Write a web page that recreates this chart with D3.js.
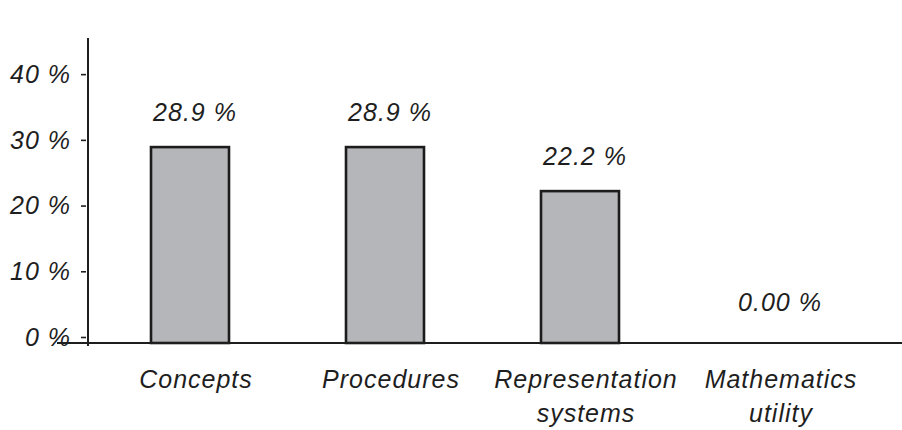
<!DOCTYPE html>
<html>
<head>
<meta charset="utf-8">
<script src="https://cdn.jsdelivr.net/npm/d3@7"></script>
<style>
  html, body { margin: 0; padding: 0; background: #fff; }
  svg text { font-family: "Liberation Sans", Arial, sans-serif; font-style: italic; font-size: 25px; letter-spacing: 1px; fill: #1e1e1e; }
</style>
</head>
<body>
<svg id="chart" width="902" height="430"></svg>
<script>
// Share of items per category
const categories = [["Concepts"], ["Procedures"], ["Representation", "systems"], ["Mathematics", "utility"]];
const values = [28.9, 28.9, 22.2, 0];
const valueLabels = ["28.9 %", "28.9 %", "22.2 %", "0.00 %"];
const yTicks = [0, 10, 20, 30, 40];
const yMax = 45.5;

const svg = d3.select("#chart");
const ink = "#1e1e1e";

const x = d3.scaleBand()
  .domain(d3.range(categories.length))
  .range([92.5, 872.5])
  .paddingInner(0.6)
  .paddingOuter(0.3);

const y = d3.scaleLinear().domain([0, yMax]).range([337, 38]);
const baseY = y(0) + 6;

// y ticks and labels
const yAxis = svg.append("g")
  .attr("transform", "translate(86,0)")
  .call(d3.axisLeft(y).tickValues(yTicks).tickFormat(d => d + " %").tickSize(5).tickPadding(10));
yAxis.select(".domain").remove();
yAxis.selectAll(".tick line").attr("stroke", ink).attr("stroke-width", 1.6);
yAxis.selectAll(".tick text").attr("dy", "0.33em");
yAxis.attr("font-size", null).attr("font-family", null);

// bars
svg.append("g").selectAll("rect")
  .data(values)
  .join("rect")
  .attr("x", (d, i) => x(i))
  .attr("y", d => y(d))
  .attr("width", x.bandwidth())
  .attr("height", d => baseY - y(d))
  .attr("fill", d => d > 0 ? "#b5b6b9" : "none")
  .attr("stroke", d => d > 0 ? "#1c1c1c" : "none")
  .attr("stroke-width", 2.6);

// value labels
svg.append("g").selectAll("text")
  .data(values)
  .join("text")
  .attr("x", (d, i) => x(i) + x.bandwidth() / 2 + 5)
  .attr("y", d => y(d) - 26)
  .attr("text-anchor", "middle")
  .text((d, i) => valueLabels[i]);

// axis lines
svg.append("line")
  .attr("x1", 57).attr("x2", 902)
  .attr("y1", baseY).attr("y2", baseY)
  .attr("stroke", ink).attr("stroke-width", 2);
svg.append("line")
  .attr("x1", 88).attr("x2", 88)
  .attr("y1", y(yMax)).attr("y2", baseY + 3)
  .attr("stroke", ink).attr("stroke-width", 2);

// category labels, one text per line
const cat = svg.append("g").selectAll("g")
  .data(categories)
  .join("g")
  .attr("transform", (d, i) => `translate(${x(i) + x.bandwidth() / 2 + 6},388)`);
cat.selectAll("text")
  .data(d => d)
  .join("text")
  .attr("text-anchor", "middle")
  .attr("y", (d, j) => j * 34)
  .text(d => d);
</script>
</body>
</html>
